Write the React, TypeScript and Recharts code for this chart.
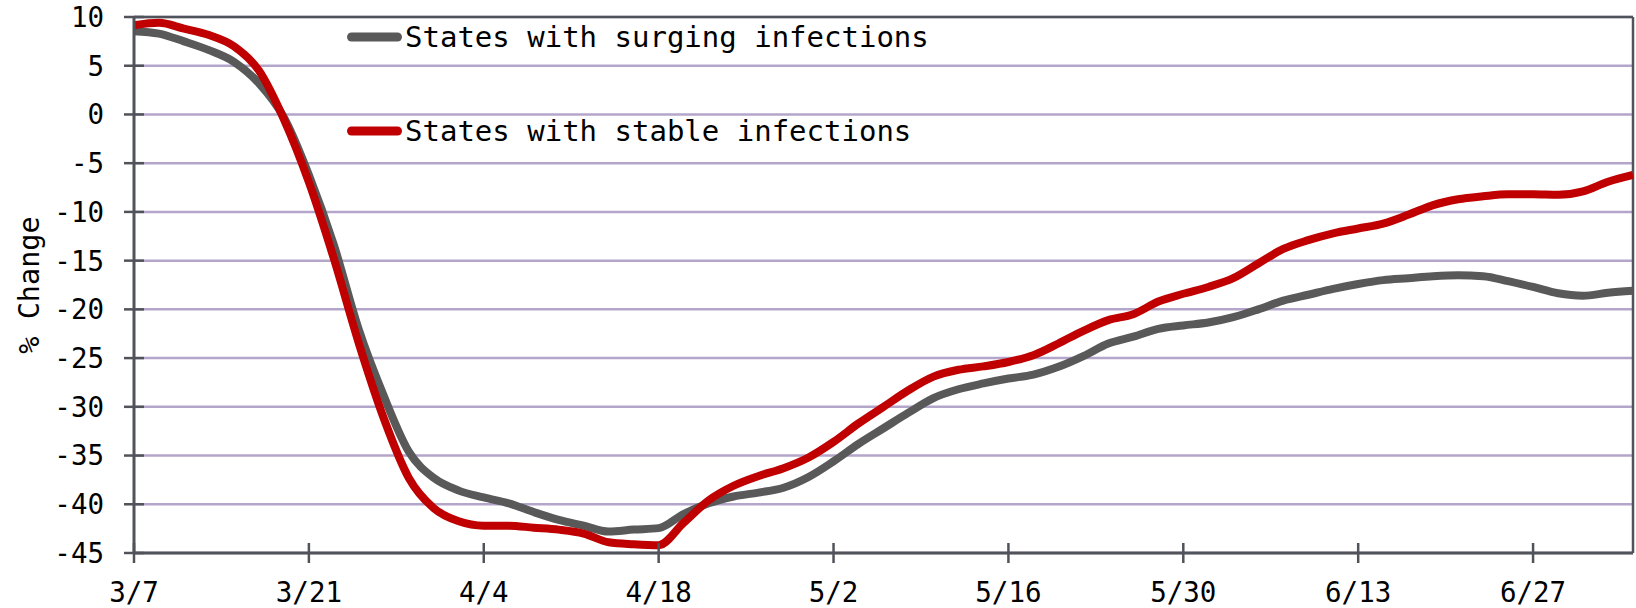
import { LineChart, Line, XAxis, YAxis, CartesianGrid, ReferenceLine, Legend } from 'recharts';

// day index counted from 3/7, one reading every 2 days
const days = [
    0, 2, 4, 6, 8, 10, 12, 14, 16, 18, 20, 22, 24, 26, 28, 30, 32, 34, 36, 38,
    40, 42, 44, 46, 48, 50, 52, 54, 56, 58, 60, 62, 64, 66, 68, 70, 72, 74, 76, 78,
    80, 82, 84, 86, 88, 90, 92, 94, 96, 98, 100, 102, 104, 106, 108, 110, 112, 114, 116, 118, 120,
];

const surging = [
    8.55, 8.3, 7.5, 6.6, 5.4, 3.2, -0.3, -6.2, -13.4, -22.1, -28.9, -34.6, -37.3, -38.6, -39.3, -39.9, -40.8, -41.6, -42.2, -42.8,
    -42.6, -42.45, -41.0, -39.9, -39.2, -38.8, -38.3, -37.2, -35.6, -33.8, -32.2, -30.6, -29.1, -28.2, -27.6, -27.1, -26.7, -25.9, -24.8, -23.5,
    -22.8, -22.0, -21.65, -21.35, -20.8, -20.0, -19.1, -18.5, -17.9, -17.4, -17.0, -16.8, -16.6, -16.5, -16.6, -17.1, -17.7, -18.35, -18.6, -18.3, -18.1,
];

const stable = [
    9.15, 9.4, 8.8, 8.15, 7.0, 4.5, -0.5, -6.95, -14.8, -23.5, -31.2, -37.3, -40.4, -41.75, -42.2, -42.2, -42.4, -42.6, -43.0, -43.9,
    -44.1, -44.2, -41.9, -39.6, -38.1, -37.1, -36.3, -35.2, -33.6, -31.7, -30.0, -28.3, -26.9, -26.2, -25.85, -25.4, -24.7, -23.5, -22.2, -21.1,
    -20.5, -19.2, -18.4, -17.7, -16.8, -15.3, -13.8, -12.9, -12.2, -11.7, -11.2, -10.3, -9.3, -8.7, -8.4, -8.2, -8.2, -8.25, -7.9, -6.9, -6.2,
];

const xTickDays = [0, 14, 28, 42, 56, 70, 84, 98, 112];
const xTickLabels = ['3/7', '3/21', '4/4', '4/18', '5/2', '5/16', '5/30', '6/13', '6/27'];
const yTicks = [10, 5, 0, -5, -10, -15, -20, -25, -30, -35, -40, -45];

const seriesNames = ['States with surging infections', 'States with stable infections'];
const seriesColors = ['#595959', '#c00000'];

const data = days.map((d, i) => ({ day: d, surging: surging[i], stable: stable[i] }));

const FONT = '"DejaVu Sans Mono", monospace';
const AXIS = '#50535a';
const GRID = '#b4a6cb';
const TICK_SIZE = 10;
const TICK_MARGIN = 20;

const YTick = (props: any) => {
    const { x, y, payload } = props;
    const axisX = x + TICK_SIZE + TICK_MARGIN;
    return (
        <g>
            <line x1={axisX} x2={axisX + 10} y1={y} y2={y} stroke={AXIS} strokeWidth={2.5} />
            <text x={x} y={y} dy="0.36em" textAnchor="end" fontSize={27.5} fontFamily={FONT} fill="#000">
                {payload.value}
            </text>
        </g>
    );
};

const XTick = (props: any) => {
    const { x, y, payload } = props;
    const axisY = y - TICK_SIZE - TICK_MARGIN;
    const label = xTickLabels[xTickDays.indexOf(payload.value)];
    return (
        <g>
            <line x1={x} x2={x} y1={axisY} y2={axisY - 10} stroke={AXIS} strokeWidth={2.5} />
            <text x={x} y={y - 1} dy="0.71em" textAnchor="middle" fontSize={27.5} fontFamily={FONT} fill="#000">
                {label}
            </text>
        </g>
    );
};

const LegendBox = () => (
    <div style={{ position: 'relative', fontFamily: FONT, fontSize: 29, lineHeight: '34px', color: '#000' }}>
        {seriesNames.map((name, i) => (
            <div
                key={name}
                style={{ position: 'absolute', left: 0, top: i * 94, height: 34, display: 'flex', alignItems: 'center', whiteSpace: 'nowrap' }}
            >
                <svg width={64} height={12}>
                    <line x1={10.5} x2={56.5} y1={6} y2={6} stroke={seriesColors[i]} strokeWidth={9} strokeLinecap="round" />
                </svg>
                <span>{name}</span>
            </div>
        ))}
    </div>
);

const YLabel = (props: any) => {
    const { viewBox } = props;
    const cx = viewBox.x + 29;
    const cy = viewBox.y + viewBox.height / 2;
    return (
        <text
            x={cx}
            y={cy}
            transform={`rotate(-90, ${cx}, ${cy})`}
            textAnchor="middle"
            dominantBaseline="central"
            fontSize={28.5}
            fontFamily={FONT}
            fill="#000"
        >
            % Change
        </text>
    );
};

export default function App() {
    return (
        <div style={{ position: 'absolute', left: 0, top: 0, width: 1636, height: 608, background: '#fff' }}>
            <LineChart width={1636} height={608} data={data} margin={{ top: 17, right: 3, bottom: 0, left: 0 }}>
                <CartesianGrid horizontal vertical={false} stroke={GRID} strokeWidth={2.5} />
                <XAxis
                    dataKey="day"
                    type="number"
                    domain={[0, 120]}
                    ticks={xTickDays}
                    interval={0}
                    height={55}
                    stroke={AXIS}
                    strokeWidth={3}
                    tickSize={TICK_SIZE}
                    tickMargin={TICK_MARGIN}
                    tickLine={{ stroke: AXIS, strokeWidth: 2.5 }}
                    tick={<XTick />}
                />
                <YAxis
                    type="number"
                    domain={[-45, 10]}
                    ticks={yTicks}
                    interval={0}
                    width={134}
                    stroke={AXIS}
                    strokeWidth={3}
                    tickSize={TICK_SIZE}
                    tickMargin={TICK_MARGIN}
                    tickLine={{ stroke: AXIS, strokeWidth: 2.5 }}
                    tick={<YTick />}
                    label={{ content: <YLabel /> }}
                />
                <ReferenceLine y={10} stroke={AXIS} strokeWidth={2.5} />
                <ReferenceLine x={120} stroke={AXIS} strokeWidth={2.5} />
                <Line
                    type="monotone"
                    dataKey="surging"
                    name={seriesNames[0]}
                    stroke={seriesColors[0]}
                    strokeWidth={8}
                    dot={false}
                    strokeLinejoin="round"
                    isAnimationActive={false}
                />
                <Line
                    type="monotone"
                    dataKey="stable"
                    name={seriesNames[1]}
                    stroke={seriesColors[1]}
                    strokeWidth={8}
                    dot={false}
                    strokeLinejoin="round"
                    isAnimationActive={false}
                />
                <Legend
                    layout="vertical"
                    align="center"
                    verticalAlign="middle"
                    content={<LegendBox />}
                    wrapperStyle={{ top: 19.5, left: 341, width: 700, height: 140 }}
                />
            </LineChart>
        </div>
    );
}
